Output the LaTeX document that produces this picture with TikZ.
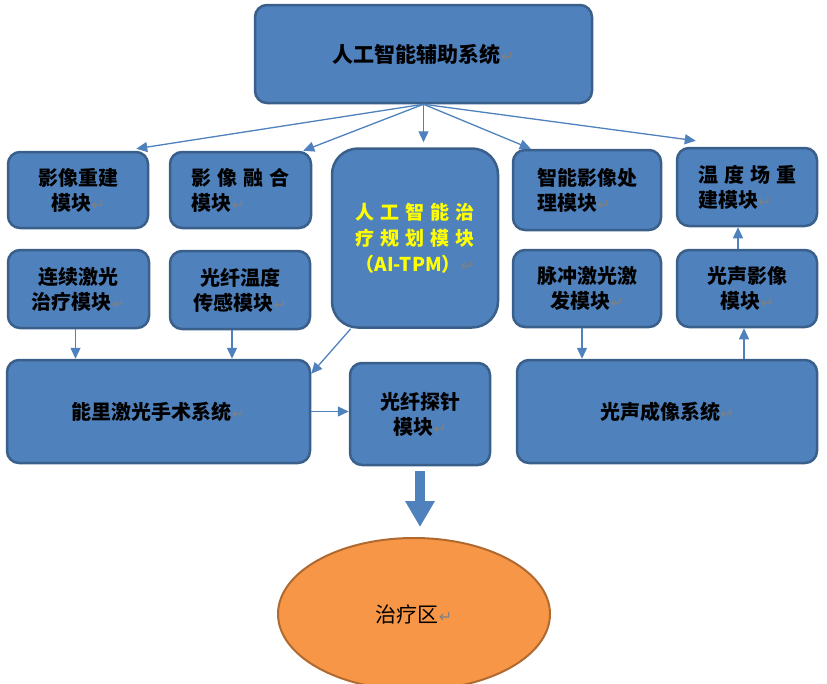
\documentclass[tikz,border=0pt]{standalone}
\usepackage{fontspec}
\setmainfont{Noto Sans CJK SC}
\newfontfamily\symfont{DejaVu Sans}
\usetikzlibrary{arrows.meta,shapes.geometric}

\definecolor{boxblue}{HTML}{4F81BD}
\definecolor{boxline}{HTML}{3A5F8B}
\definecolor{zonefill}{HTML}{F79646}
\definecolor{zoneline}{HTML}{B0692F}
\definecolor{tpmtext}{HTML}{FFFF00}

\newcommand\retmark{{\symfont\color{gray}\fontsize{16pt}{16pt}\selectfont\mdseries ↵}}
\newcommand\gap{\hspace{6pt}}

\tikzset{
  box/.style={draw=boxline,fill=boxblue,line width=2.5pt,rounded corners=12pt,
    inner sep=0pt,text=black,font=\fontsize{20pt}{25pt}\selectfont\bfseries},
  bigbox/.style={box,rounded corners=26pt,text=tpmtext,
    font=\fontsize{19pt}{26pt}\selectfont\bfseries},
  link/.style={draw=boxblue,line width=1.3pt,-{Triangle[width=10pt,length=11pt]}},
  flow/.style={draw=boxblue,line width=10pt,-{Triangle[width=28pt,length=26pt]}},
  zone/.style={ellipse,draw=zoneline,fill=zonefill,line width=2pt,
    font=\fontsize{21pt}{21pt}\selectfont}
}

\begin{document}
\begin{tikzpicture}[x=1pt,y=-1pt]
\useasboundingbox (0,0) rectangle (827,683);

% top
\node[box,minimum width=337pt,minimum height=98pt,font=\fontsize{21pt}{25pt}\selectfont\bfseries] (top) at (423.5,54) {人工智能辅助系统\retmark};

% first row
\node[box,minimum width=140pt,minimum height=76pt,align=center] (b11) at (78,190) {影像重建\\模块\retmark};
\node[box,minimum width=141pt,minimum height=76pt,align=left] (b12) at (240.5,190) {影\gap{}像\gap{}融\gap{}合\\模块\retmark};
\node[bigbox,minimum width=166pt,minimum height=179pt,align=center] (tpm) at (415,238) {人\gap{}工\gap{}智\gap{}能\gap{}治\\疗\gap{}规\gap{}划\gap{}模\gap{}块\\（AI-TPM）\retmark};
\node[box,minimum width=148pt,minimum height=80pt,align=left] (b14) at (587,190) {智能影像处\\理模块\retmark};
\node[box,minimum width=140pt,minimum height=78pt,align=left] (b15) at (747,187) {温\gap{}度\gap{}场\gap{}重\\建模块\retmark};

% second row
\node[box,minimum width=141pt,minimum height=78pt,align=center] (b21) at (78.5,289) {连续激光\\治疗模块\retmark};
\node[box,minimum width=140pt,minimum height=78pt,align=center] (b22) at (240,290) {光纤温度\\传感模块\retmark};
\node[box,minimum width=148pt,minimum height=77pt,align=center] (b24) at (587,288.5) {脉冲激光激\\发模块\retmark};
\node[box,minimum width=140pt,minimum height=77pt,align=center] (b25) at (747,288.5) {光声影像\\模块\retmark};

% systems
\node[box,minimum width=303pt,minimum height=103pt] (sys1) at (158.5,411.5) {能里激光手术系统\retmark};
\node[box,minimum width=140pt,minimum height=102pt,align=center] (probe) at (420,414) {光纤探针\\模块\retmark};
\node[box,minimum width=300pt,minimum height=103pt] (sys2) at (667,411.5) {光声成像系统\retmark};

\node[zone,minimum width=272pt,minimum height=152pt] (area) at (414,614) {治疗区\retmark};

\draw[link] (top.south) -- ([xshift=-13pt,yshift=2pt]b11.north east);
\draw[link] (top.south) -- ([xshift=-9pt]b12.north east);
\draw[link] (top.south) -- ([yshift=5pt]top.south |- tpm.north);
\draw[link] (top.south) -- ([xshift=19pt]b14.north west);
\draw[link] (top.south) -- ([xshift=20pt,yshift=6pt]b15.north west);

\draw[link] ([xshift=-3pt]b21.south) -- ([xshift=-3pt]b21.south |- sys1.north);
\draw[link] ([xshift=-8pt]b22.south) -- ([xshift=-8pt]b22.south |- sys1.north);
\draw[link] ([xshift=20pt]tpm.south west) -- ([yshift=-15pt]sys1.north east);
\draw[link] (sys1.east) -- (sys1.east -| probe.west);

\draw[link] ([xshift=-5pt]b24.south) -- ([xshift=-5pt]b24.south |- sys2.north);
\draw[link] ([xshift=77pt]sys2.north) -- ([xshift=77pt]sys2.north |- b25.south);
\draw[link] ([xshift=-9pt]b25.north) -- ([xshift=-9pt]b25.north |- b15.south);

\draw[flow] ([yshift=-5pt]probe.south) -- ([yshift=10pt]probe.south |- area.north);

\end{tikzpicture}
\end{document}
